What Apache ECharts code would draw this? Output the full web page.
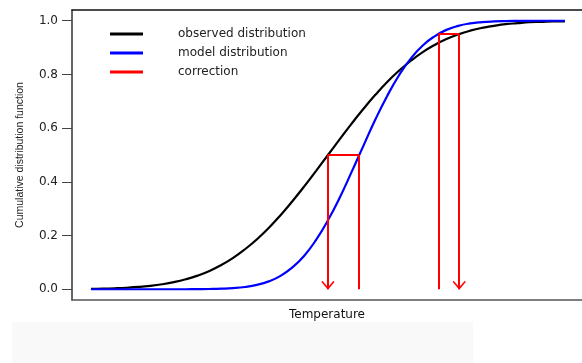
<!DOCTYPE html>
<html>
<head>
<meta charset="utf-8">
<script src="https://cdn.jsdelivr.net/npm/echarts@6/dist/echarts.min.js"></script>
<style>
  html, body { margin: 0; padding: 0; background: #fff; }
  #chart { width: 582px; height: 363px; }
</style>
</head>
<body>
<div id="chart"></div>
<script>
// temperature grid (arbitrary units, no tick labels on the x axis)
const temperature = [0, 2.5, 5, 7.5, 10, 12.5, 15, 17.5, 20, 22.5, 25, 27.5, 30, 32.5, 35, 37.5, 40,
  42.5, 45, 47.5, 50, 52.5, 55, 57.5, 60, 62.5, 65, 67.5, 70, 72.5, 75, 77.5, 80, 82.5, 85, 87.5, 90,
  92.5, 95, 97.5, 100]
// observed CDF (black)
const observed = [0.0015, 0.0023, 0.0037, 0.0057, 0.0086, 0.0128, 0.0186, 0.0265, 0.0371, 0.0508, 0.0684,
  0.0903, 0.117, 0.149, 0.186, 0.228, 0.276, 0.328, 0.383, 0.441, 0.5, 0.559, 0.617, 0.672, 0.724, 0.772,
  0.814, 0.851, 0.883, 0.9097, 0.932, 0.9492, 0.963, 0.9735, 0.981, 0.9872, 0.991, 0.9943, 0.996, 0.9977, 0.998]
// model CDF (blue)
const model = [0, 0, 0, 0, 0, 0, 0, 0, 0.0001, 0.0004, 0.0009, 0.002, 0.0042, 0.0085, 0.0162, 0.0293, 0.05,
  0.0814, 0.125, 0.184, 0.257, 0.342, 0.437, 0.535, 0.632, 0.72, 0.797, 0.86, 0.908, 0.942, 0.966, 0.981,
  0.99, 0.9948, 0.9975, 0.9989, 0.9995, 0.9998, 1, 1, 1]
// quantile mapping: [model temperature, observed temperature, probability]
const corrections = [[56.6, 50, 0.5], [73.3, 77.7, 0.95]]
const yTicks = [0, 0.2, 0.4, 0.6, 0.8, 1.0]

const arrowHead = 'path://M0,0 L7,8 L6,9.3 L0,2.5 L-6,9.3 L-7,8 Z'

// each correction: up from the model value, across to the observed curve, down with an arrow
const segments = []
corrections.forEach(([xm, xo, p]) => {
  segments.push([{coord: [xm, 0]}, {coord: [xm, p]}])
  segments.push([{coord: [xm, p]}, {coord: [xo, p]}])
  segments.push([{coord: [xo, p]}, {coord: [xo, 0], symbol: arrowHead, symbolSize: [13, 9], symbolOffset: [0, 4]}])
})

const chart = echarts.init(document.getElementById('chart'))
chart.setOption({
  animation: false,
  backgroundColor: '#fff',
  graphic: [
    {type: 'rect', left: 12, top: 322, shape: {width: 461, height: 41}, style: {fill: '#f9f9f9'}, z: -1}
  ],
  grid: {left: 72, right: 0, top: 10, bottom: 63},
  legend: {
    orient: 'vertical',
    left: 105,
    top: 22,
    itemGap: 5,
    itemWidth: 33,
    itemHeight: 3,
    icon: 'rect',
    textStyle: {fontFamily: 'DejaVu Sans', fontSize: 12, color: '#222', lineHeight: 14, padding: [0, 0, 0, 30]},
    data: ['observed distribution', 'model distribution', 'correction']
  },
  xAxis: [
    {
      type: 'value',
      min: -4,
      max: 103.6,
      name: 'Temperature',
      nameLocation: 'middle',
      nameGap: 9,
      nameTextStyle: {fontFamily: 'DejaVu Sans', fontSize: 12, color: '#111', verticalAlign: 'top'},
      axisLine: {show: true, onZero: false, lineStyle: {color: '#555', width: 1.5}},
      axisTick: {show: false},
      axisLabel: {show: false},
      splitLine: {show: false}
    },
    {
      // top frame line only
      type: 'value',
      position: 'top',
      min: -4,
      max: 103.6,
      axisLine: {show: true, onZero: false, lineStyle: {color: '#111', width: 1.5}},
      axisTick: {show: false},
      axisLabel: {show: false},
      splitLine: {show: false}
    }
  ],
  yAxis: {
    type: 'value',
    min: -0.04,
    max: 1.04,
    name: 'Cumulative distribution function',
    nameLocation: 'middle',
    nameGap: 46,
    nameTextStyle: {fontFamily: 'Liberation Sans', fontSize: 10.5, color: '#222'},
    axisLine: {show: true, onZero: false, lineStyle: {color: '#333', width: 1.5}},
    axisTick: {show: true, length: 10, customValues: yTicks, lineStyle: {color: '#444', width: 1}},
    axisLabel: {
      customValues: yTicks,
      margin: 14,
      fontFamily: 'DejaVu Sans',
      fontSize: 12,
      color: '#222',
      formatter: v => v.toFixed(1)
    },
    splitLine: {show: false}
  },
  series: [
    {
      name: 'observed distribution',
      type: 'line',
      smooth: true,
      showSymbol: false,
      color: '#000',
      lineStyle: {color: '#000', width: 2.2},
      data: temperature.map((t, i) => [t, observed[i]])
    },
    {
      name: 'model distribution',
      type: 'line',
      smooth: true,
      showSymbol: false,
      color: '#0000ff',
      lineStyle: {color: '#0000ff', width: 2.2},
      data: temperature.map((t, i) => [t, model[i]])
    },
    {
      name: 'correction',
      type: 'line',
      color: '#ff0000',
      lineStyle: {color: '#ff0000', width: 2},
      data: [],
      markLine: {
        silent: true,
        animation: false,
        symbol: ['none', 'none'],
        label: {show: false},
        lineStyle: {color: '#ff0000', width: 2, type: 'solid'},
        emphasis: {disabled: true},
        data: segments
      }
    }
  ]
})
</script>
</body>
</html>
